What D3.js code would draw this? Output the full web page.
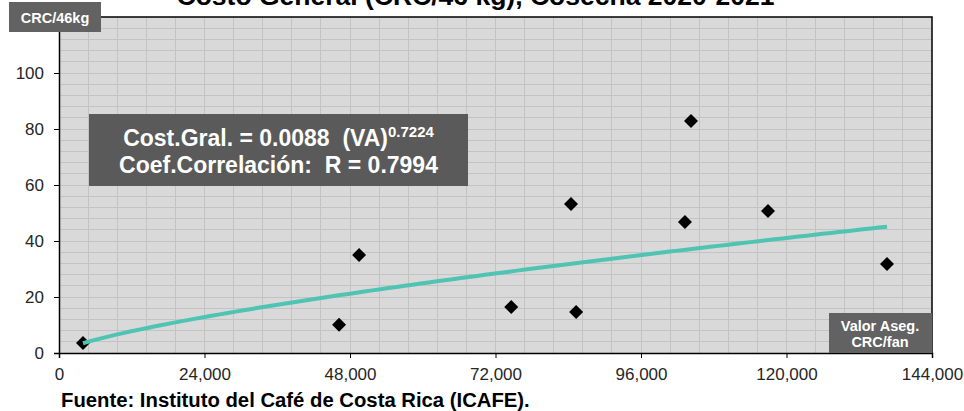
<!DOCTYPE html>
<html>
<head>
<meta charset="utf-8">
<script src="https://cdn.jsdelivr.net/npm/d3@7/dist/d3.min.js"></script>
<style>
  html, body { margin: 0; padding: 0; background: #ffffff; }
  svg { display: block; font-family: "Liberation Sans", Arial, sans-serif; }
  text { white-space: pre; }
</style>
</head>
<body>
<svg id="chart" width="964" height="411"></svg>
<script>
// ---- Data ----
const titleText = "Costo General (CRC/46 kg), Cosecha 2020-2021";
const sourceText = "Fuente: Instituto del Café de Costa Rica (ICAFE).";
const yUnitLabel = "CRC/46kg";
const xUnitLabel = ["Valor Aseg.", "CRC/fan"];
const valorAseg = [3960, 46200, 49500, 74600, 84450, 85300, 103250, 104250, 116950, 136580];
const costoGeneral = [3.6, 10.1, 35.0, 16.4, 53.2, 14.6, 46.8, 82.9, 50.7, 31.8];
const xTicks = [0, 24000, 48000, 72000, 96000, 120000, 144000];
const yTicks = [0, 20, 40, 60, 80, 100];
const trendCoef = 0.0088;
const trendExp = 0.7224;
const trendR = 0.7994;

(function () {
// ---- Layout ----
const svg = d3.select("#chart");
const pL = 59, pR = 932, pT = 17, pB = 353;

const x = d3.scaleLinear().domain([0, 144000]).range([pL, pR]);
const y = d3.scaleLinear().domain([0, 120]).range([pB, pT]);

// plot background
svg.append("rect")
  .attr("x", pL).attr("y", pT)
  .attr("width", pR - pL).attr("height", pB - pT)
  .attr("fill", "#d9d9d9");

// gridlines
const g = svg.append("g");
g.selectAll("line.vg").data(d3.range(4800, 144000, 4800)).join("line")
  .attr("class", "vg")
  .attr("x1", d => x(d)).attr("x2", d => x(d))
  .attr("y1", pT).attr("y2", pB)
  .attr("stroke", "#c3c3c3").attr("stroke-width", 1)
  .attr("shape-rendering", "crispEdges");
g.selectAll("line.hg").data(d3.range(4, 120, 4)).join("line")
  .attr("class", "hg")
  .attr("y1", d => y(d)).attr("y2", d => y(d))
  .attr("x1", pL).attr("x2", pR)
  .attr("stroke", "#c3c3c3").attr("stroke-width", 1)
  .attr("shape-rendering", "crispEdges");

// border top/right
svg.append("path")
  .attr("d", `M${pL},${pT}H${pR}V${pB}`)
  .attr("fill", "none").attr("stroke", "#000").attr("stroke-width", 1.5);

// axes
const xAxis = svg.append("g").attr("transform", `translate(0,${pB})`)
  .call(d3.axisBottom(x).tickValues(xTicks).tickFormat(d3.format(",")).tickSizeOuter(0).tickSize(5).tickPadding(10));
const yAxis = svg.append("g").attr("transform", `translate(${pL},0)`)
  .call(d3.axisLeft(y).tickValues(yTicks).tickSizeOuter(0).tickSize(5).tickPadding(10));
[xAxis, yAxis].forEach(a => {
  a.select(".domain").attr("stroke", "#000").attr("stroke-width", 1.5);
  a.selectAll(".tick line").attr("stroke", "#000").attr("stroke-width", 1);
  a.selectAll(".tick text").attr("fill", "#262626")
    .style("font-size", "17px").style("font-family", "'Liberation Sans', Arial, sans-serif");
});
yAxis.selectAll(".tick text").attr("x", -15);

// markers
svg.append("g").selectAll("path").data(valorAseg.map((v, i) => [v, costoGeneral[i]])).join("path")
  .attr("d", d3.symbol().type(d3.symbolSquare).size(98))
  .attr("transform", d => `translate(${x(d[0])},${y(d[1])}) rotate(45)`)
  .attr("fill", "#000");

// trend line (power fit from chart's equation)
const [xmin, xmax] = d3.extent(valorAseg);
const trendX = d3.range(0, 101).map(i => xmin + (xmax - xmin) * i / 100);
svg.append("path")
  .datum(trendX)
  .attr("d", d3.line().x(d => x(d)).y(d => y(trendCoef * Math.pow(d, trendExp))))
  .attr("fill", "none").attr("stroke", "#4fc4b2").attr("stroke-width", 4)
  .attr("stroke-linecap", "butt");

// equation box
svg.append("rect").attr("x", 89).attr("y", 114).attr("width", 379).attr("height", 72).attr("fill", "#5a5a5a");
const eq = svg.append("text").attr("x", 278.5).attr("y", 145.5).attr("text-anchor", "middle")
  .attr("fill", "#fff").style("font-weight", "bold").style("font-size", "23px");
eq.append("tspan").text(`Cost.Gral. = ${trendCoef.toFixed(4)}  (VA)`);
eq.append("tspan").attr("dy", -9).style("font-size", "15px").text(trendExp.toFixed(4));
svg.append("text").attr("x", 278.5).attr("y", 172.5).attr("text-anchor", "middle")
  .attr("fill", "#fff").style("font-weight", "bold").style("font-size", "23px")
  .text(`Coef.Correlación:  R = ${trendR.toFixed(4)}`);

// y unit label box
svg.append("rect").attr("x", 9).attr("y", 2).attr("width", 92).attr("height", 30).attr("fill", "#626262");
svg.append("text").attr("x", 55).attr("y", 22.5).attr("text-anchor", "middle")
  .attr("fill", "#fff").style("font-weight", "bold").style("font-size", "14.5px").text(yUnitLabel);

// x unit label box
svg.append("rect").attr("x", 829).attr("y", 313).attr("width", pR - 829).attr("height", pB - 313).attr("fill", "#626262");
svg.append("text").attr("x", 880).attr("y", 330.5).attr("text-anchor", "middle")
  .attr("fill", "#fff").style("font-weight", "bold").style("font-size", "14.5px").text(xUnitLabel[0]);
svg.append("text").attr("x", 880).attr("y", 347).attr("text-anchor", "middle")
  .attr("fill", "#fff").style("font-weight", "bold").style("font-size", "14.5px").text(xUnitLabel[1]);

// title (partially cut at top, as in the reference)
svg.append("text").attr("x", 475.5).attr("y", 4.5).attr("text-anchor", "middle")
  .attr("fill", "#000").style("font-weight", "bold").style("font-size", "26.5px").text(titleText);

// source
svg.append("text").attr("x", 61).attr("y", 406.5)
  .attr("fill", "#000").style("font-weight", "bold").style("font-size", "20.3px").text(sourceText);
})();
</script>
</body>
</html>
